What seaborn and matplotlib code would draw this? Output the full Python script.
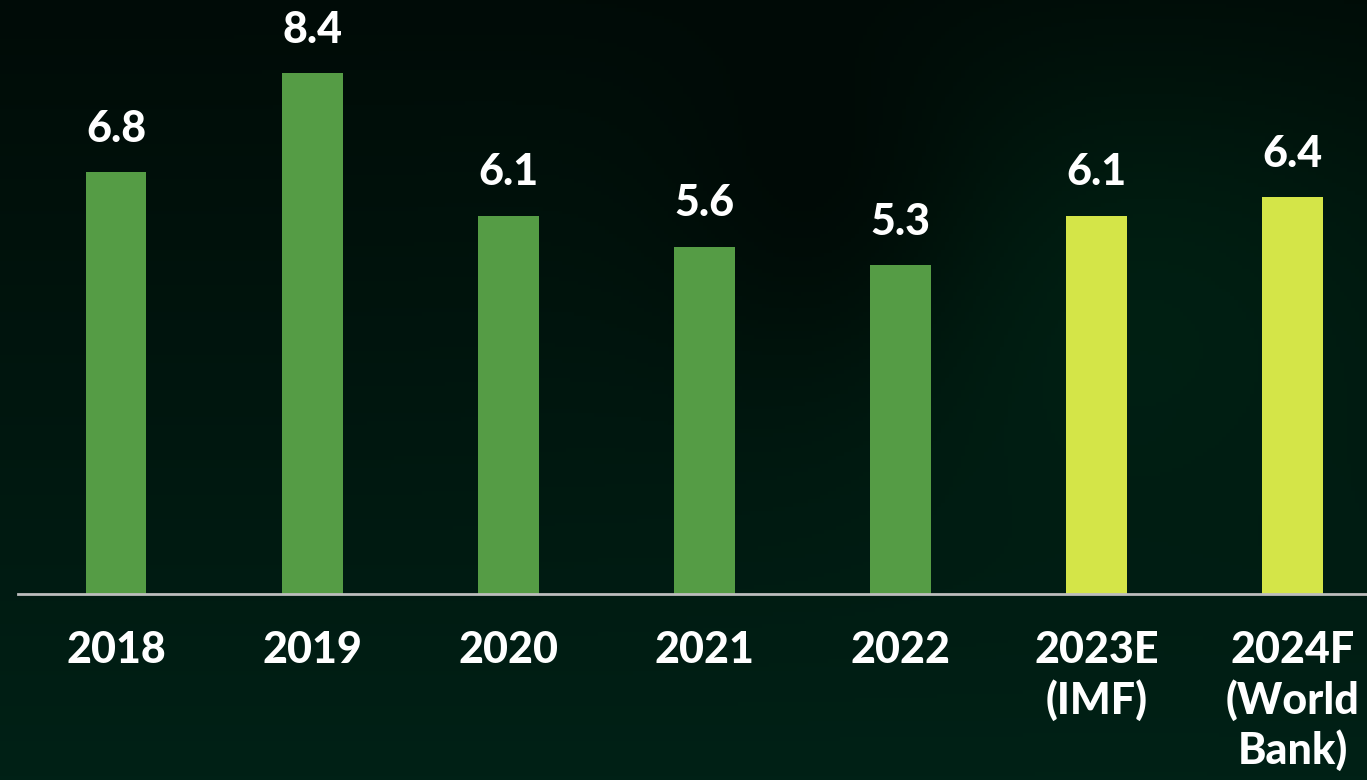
import numpy as np
import pandas as pd
import matplotlib
matplotlib.use("Agg")
import matplotlib.pyplot as plt
import seaborn as sns

# GDP growth (%) by year, with estimate and forecast
years = ["2018", "2019", "2020", "2021", "2022", "2023E\n(IMF)", "2024F\n(World\nBank)"]
growth = [6.8, 8.4, 6.1, 5.6, 5.3, 6.1, 6.4]
value_labels = ["6.8", "8.4", "6.1", "5.6", "5.3", "6.1", "6.4"]
bar_colors = ["#559C45", "#559C45", "#559C45", "#559C45", "#559C45", "#D4E548", "#D4E548"]

sns.set_theme(style="white")
plt.rcParams["font.family"] = ["Lato", "DejaVu Sans"]

W, H = 1367, 780
fig = plt.figure(figsize=(W / 100, H / 100), dpi=100)

# dark green gradient backdrop
bg = fig.add_axes([0, 0, 1, 1], zorder=0)
yy, xx = np.mgrid[0:1:200j, 0:1:350j]
top = np.array([1, 11, 7]) / 255
bottom = np.array([0, 33, 22]) / 255
t = yy[..., None]
img = top * (1 - t) + bottom * t
glow = np.exp(-(((xx - 0.82) / 0.25) ** 2 + ((yy - 0.35) / 0.3) ** 2))[..., None]
img = img + glow * (np.array([0, 12, 6]) / 255)
dark = np.exp(-(((xx - 0.6) / 0.12) ** 2 + ((yy - 0.25) / 0.25) ** 2))[..., None]
img = img * (1 - 0.5 * dark)
bg.imshow(np.clip(img, 0, 1), aspect="auto", extent=[0, 1, 0, 1], origin="upper")
bg.axis("off")

ax = fig.add_axes([18 / W, 1 - 594 / H, 1 - 18 / W, 594 / H], zorder=1)
ax.patch.set_alpha(0)

df = pd.DataFrame({"year": years, "growth": growth})
sns.barplot(data=df, x="year", y="growth", hue="year", palette=bar_colors,
            legend=False, width=0.31, saturation=1, linewidth=0, ax=ax)

for i, (v, lab) in enumerate(zip(growth, value_labels)):
    ax.annotate(lab, (i, v), xytext=(0, 17), textcoords="offset points",
                ha="center", va="bottom", color="white", fontsize=31,
                fontweight="black")

ax.set_xlim(-0.5, 6.38)
ax.set_ylim(0, 9.58)
ax.set_xlabel("")
ax.set_ylabel("")
ax.set_yticks([])
ax.tick_params(axis="x", length=0, pad=26, labelsize=31, labelcolor="white")
for lbl in ax.get_xticklabels():
    lbl.set_fontweight("black")
    lbl.set_linespacing(1.25)
    lbl.set_verticalalignment("top")
for side in ["top", "right", "left"]:
    ax.spines[side].set_visible(False)
ax.spines["bottom"].set_color("#BDBDBD")
ax.spines["bottom"].set_linewidth(2)
ax.spines["bottom"].set_zorder(5)

fig.savefig("out.png", dpi=100)
